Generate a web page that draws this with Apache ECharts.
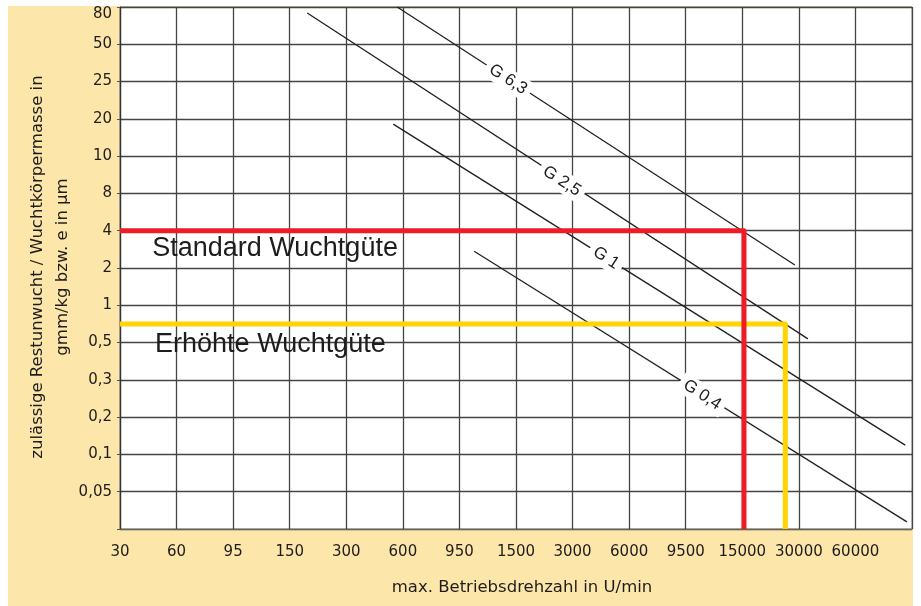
<!DOCTYPE html>
<html>
<head>
<meta charset="utf-8">
<script src="https://cdn.jsdelivr.net/npm/echarts@6/dist/echarts.min.js"></script>
<style>html,body{margin:0;padding:0;background:#fff;}#c{width:921px;height:606px;}</style>
</head>
<body>
<div id="c"></div>
<script>
// Tick labels (evenly spaced, index based)
var xLabels = ['30','60','95','150','300','600','950','1500','3000','6000','9500','15000','30000','60000',''];
var yLabels = ['','0,05','0,1','0,2','0,3','0,5','1','2','4','8','10','20','25','50','80'];

// Balance-grade lines, in axis index units [x, y]
var lineG63 = [[4.9, 14.0], [11.93, 7.08]];
var lineG25 = [[3.31, 13.84], [12.16, 5.10]];
var lineG1  = [[4.83, 10.86], [13.88, 2.25]];
var lineG04 = [[6.26, 7.45], [13.91, 0.19]];

// Line label positions [x, y, text]
var gradeLabels = [[6.86, 12.06, 'G 6,3'], [7.81, 9.33, 'G 2,5'], [8.59, 7.27, 'G 1'], [10.29, 3.60, 'G 0,4']];

// Quality limits
var standardLimit = [[0, 8], [11.03, 8], [11.03, 0]];
var enhancedLimit = [[0, 5.5], [11.76, 5.5], [11.76, 0]];

// Annotation texts [x, y, text]
var annotations = [[0.57, 7.51, 'Standard Wuchtgüte'], [0.62, 4.96, 'Erhöhte Wuchtgüte']];

var yTitle = 'zulässige Restunwucht / Wuchtkörpermasse in\ngmm/kg bzw. e in µm';
var xTitle = 'max. Betriebsdrehzahl in U/min';

var FONT = 'Liberation Sans, Arial, Helvetica, sans-serif';
var WFONT = 'DejaVu Sans, Verdana, sans-serif';
var TXT = '#1f1c1d';

function diag(d) {
  return {type: 'line', data: d, symbol: 'none', z: 3, silent: true,
    lineStyle: {color: '#231F20', width: 1.3}};
}

var chart = echarts.init(document.getElementById('c'), null, {renderer: 'canvas'});
chart.setOption({
  animation: false,
  backgroundColor: '#ffffff',
  graphic: [{
    type: 'rect', z: -10, silent: true,
    shape: {x: 8, y: 6, width: 905, height: 600},
    style: {fill: '#FDE6A9'}
  }, {
    type: 'text', z: 10, silent: true, x: 50, y: 267, rotation: Math.PI / 2,
    style: {text: yTitle, align: 'center', verticalAlign: 'middle', lineHeight: 25,
      fontFamily: WFONT, fontSize: 16.5, fill: TXT}
  }],
  grid: {left: 120, right: 9, top: 7, bottom: 77, show: true, backgroundColor: '#ffffff',
    borderColor: '#8a8a8a', borderWidth: 1},
  xAxis: {
    type: 'value', min: 0, max: 14, interval: 1,
    name: xTitle, nameLocation: 'middle', nameGap: 50,
    nameTextStyle: {fontFamily: WFONT, fontSize: 16.5, color: TXT, padding: [0, 0, 0, 12]},
    axisLine: {show: true, lineStyle: {color: '#6b6250', width: 1.2}},
    axisTick: {show: false},
    axisLabel: {margin: 16, fontFamily: WFONT, fontSize: 15, color: TXT,
      formatter: function (v) { return xLabels[Math.round(v)] || ''; }},
    splitLine: {show: true, lineStyle: {color: '#444444', width: 1.3}}
  },
  yAxis: {
    type: 'value', min: 0, max: 14, interval: 1,
    axisLine: {show: true, lineStyle: {color: '#333333', width: 1.2}},
    axisTick: {show: true, length: 3, lineStyle: {color: '#555'}},
    axisLabel: {margin: 8, fontFamily: WFONT, fontSize: 15, color: TXT,
      formatter: function (v) {
        var i = Math.round(v);
        if (i === 14) return '{t|' + yLabels[i] + '}';
        return yLabels[i] || '';
      },
      rich: {t: {fontFamily: WFONT, fontSize: 15, color: TXT, padding: [15, 0, 0, 0]}}},
    splitLine: {show: true, lineStyle: {color: '#444444', width: 1.3}}
  },
  series: [
    diag(lineG63), diag(lineG25), diag(lineG1), diag(lineG04),
    {type: 'line', data: enhancedLimit, symbol: 'none', z: 4, silent: true,
      lineStyle: {color: '#FFD400', width: 5, cap: 'butt', join: 'round'}},
    {type: 'line', data: standardLimit, symbol: 'none', z: 5, silent: true,
      lineStyle: {color: '#EE1C25', width: 5, cap: 'butt', join: 'round'}},
    {type: 'scatter', z: 6, silent: true, symbolSize: 0, itemStyle: {opacity: 1},
      data: gradeLabels.map(function (g) { return {value: [g[0], g[1]], name: g[2]}; }),
      label: {show: true, position: 'inside', rotate: -33, formatter: '{b}',
        fontFamily: FONT, fontSize: 17, color: TXT, backgroundColor: '#ffffff', padding: [2, 5]}},
    {type: 'scatter', z: 6, silent: true, symbolSize: 0, itemStyle: {opacity: 1},
      data: annotations.map(function (g) { return {value: [g[0], g[1]], name: g[2]}; }),
      label: {show: true, position: 'right', distance: 0, formatter: '{b}',
        fontFamily: FONT, fontSize: 27, color: TXT}}
  ]
});
</script>
</body>
</html>
